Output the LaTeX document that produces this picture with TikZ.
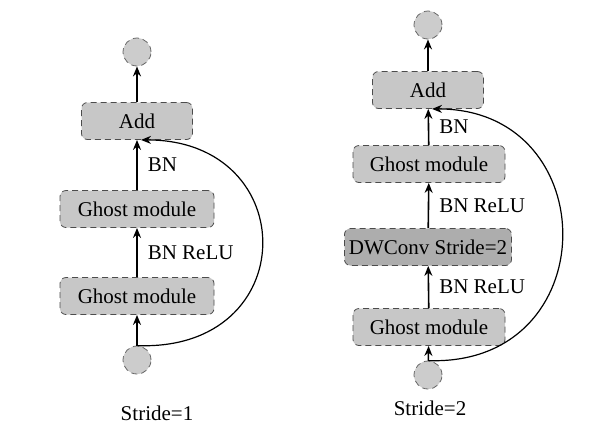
\documentclass[tikz,border=0pt]{standalone}
\usepackage{fontspec}
\setmainfont{Liberation Serif}
\usetikzlibrary{arrows.meta}
\tikzset{
    block/.style={draw=black!70,densely dashed,fill=black!22,rounded corners=3pt,
        minimum height=18.5pt,inner sep=1pt},
    dot/.style={circle,draw=black!60,densely dashed,fill=black!20,minimum size=14pt,inner sep=0pt},
    flow/.style={thick,-{Stealth[length=5pt,width=4pt]}},
    tag/.style={anchor=west,inner sep=0pt},
}
\begin{document}
\begin{tikzpicture}[x=0.5pt,y=-0.5pt,font=\fontsize{10.5}{12}\selectfont]
    \useasboundingbox (0,0) rectangle (590,425);
    % stride = 1
    \node[dot] (lout) at (137,52) {};
    \node[block,minimum width=55.5pt] (ladd) at (137,121) {Add};
    \node[block,minimum width=77pt] (lg1) at (137,209) {Ghost module};
    \node[block,minimum width=77pt] (lg2) at (137,296) {Ghost module};
    \node[dot] (lin) at (137,360) {};
    \draw[flow] (lin) -- (lg2);
    \draw[flow] (lg2) -- (lg1) node[tag,pos=0.5,xshift=5pt] {BN ReLU};
    \draw[flow] (lg1) -- (ladd) node[tag,pos=0.5,xshift=5pt] {BN};
    \draw[flow] (ladd) -- (lout);
    \draw[semithick,-{Stealth[length=5pt,width=4pt]}] (lin.north) .. controls (303,352) and (303,140) .. ([xshift=2pt]ladd.south);
    \node (lcap) at (157,413) {Stride=1};
    % stride = 2
    \node[dot] (rout) at (428,25) {};
    \node[block,minimum width=55.5pt] (radd) at (428,90) {Add};
    \node[block,minimum width=76pt] (rg1) at (429,164) {Ghost module};
    \node[block,minimum width=83.5pt,fill=black!32] (rdw) at (428,247) {DWConv Stride=2};
    \node[block,minimum width=76pt] (rg2) at (429,327) {Ghost module};
    \node[dot] (rin) at (428,375) {};
    \draw[flow] (rin) -- (rg2);
    \draw[flow] (rg2) -- (rdw) node[tag,pos=0.5,xshift=5pt] {BN ReLU};
    \draw[flow] (rdw) -- (rg1) node[tag,pos=0.5,xshift=5pt] {BN ReLU};
    \draw[flow] (rg1) -- (radd) node[tag,pos=0.5,xshift=5pt] {BN};
    \draw[flow] (radd) -- (rout);
    \draw[semithick,-{Stealth[length=5pt,width=4pt]}] (rin.north) .. controls (606,367) and (606,109) .. ([xshift=2pt]radd.south);
    \node (rcap) at (430,408) {Stride=2};
\end{tikzpicture}
\end{document}
